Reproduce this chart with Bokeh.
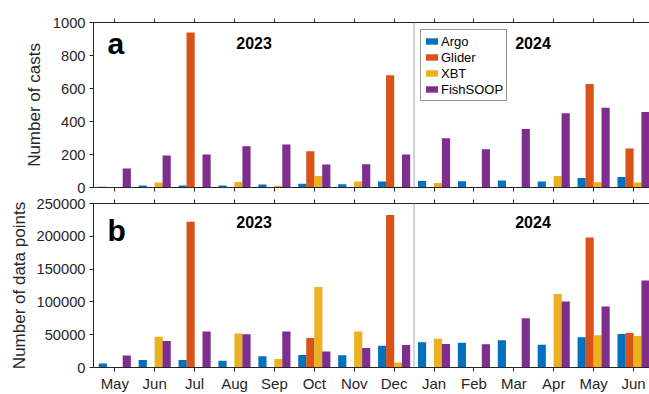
from bokeh.plotting import figure
from bokeh.models import (ColumnDataSource, FixedTicker, LinearAxis, Span, Label,
                          NumeralTickFormatter, Range1d)
from bokeh.layouts import column
from bokeh.transform import dodge
from bokeh.embed import file_html
from bokeh.resources import INLINE

# ---------------- data ----------------
months = ["May", "Jun", "Jul", "Aug", "Sep", "Oct", "Nov", "Dec",
          "Jan", "Feb", "Mar", "Apr", "May", "Jun"]
series = ["Argo", "Glider", "XBT", "FishSOOP"]

argo_casts = [5, 12, 12, 12, 18, 22, 20, 36, 40, 38, 42, 36, 57, 63]
glider_casts = [0, 0, 939, 0, 0, 220, 0, 680, 0, 0, 0, 0, 628, 236]
xbt_casts = [0, 30, 0, 34, 10, 70, 36, 5, 28, 0, 0, 70, 32, 30]
fish_casts = [115, 194, 200, 250, 260, 139, 141, 200, 299, 232, 354, 450, 483, 457]

argo_pts = [6000, 11600, 11600, 10100, 17200, 19200, 18700, 33300,
            38400, 37900, 41400, 34800, 46000, 51000]
glider_pts = [0, 0, 222000, 0, 0, 45000, 0, 232300, 0, 0, 0, 0, 198000, 52500]
xbt_pts = [0, 47000, 0, 52000, 13100, 122700, 55000, 7600,
           43900, 0, 0, 112100, 49000, 48000]
fish_pts = [18200, 40400, 55000, 50500, 55000, 24200, 29800, 34300,
            35900, 35400, 75200, 100500, 92900, 132800]

casts_ticks = [0, 200, 400, 600, 800, 1000]
pts_ticks = [0, 50000, 100000, 150000, 200000, 250000]

# ---------------- style ----------------
FONT = "Liberation Sans"
AX = "#262626"
COLORS = ["#0072BD", "#D95319", "#EDB120", "#7E2F8E"]
OFFSETS = [-0.3, -0.1, 0.1, 0.3]
BAR_W = 0.205
W = 649
idx = list(range(len(months)))


def style_xaxis(ax, show_labels):
    ax.ticker = FixedTicker(ticks=idx)
    ax.axis_line_color = AX
    ax.major_tick_line_color = AX
    ax.major_tick_out = 4
    ax.major_tick_in = 0
    ax.minor_tick_line_color = None
    ax.major_label_text_font = FONT
    if show_labels:
        ax.major_label_overrides = {i: m for i, m in enumerate(months)}
        ax.major_label_text_font_size = "15px"
        ax.major_label_text_color = AX
        ax.major_label_standoff = 3
    else:
        ax.major_label_text_color = None
        ax.major_label_standoff = 0


def make_panel(vals, yticks, ymax, ylabel, letter, height, mb_top, mb_bottom,
               bottom_labels, legend, label_standoff, letter_off, year_off, fmt=None):
    p = figure(width=W, height=height, output_backend="svg", toolbar_location=None,
               x_range=Range1d(-0.534, 13.40), y_range=Range1d(0, ymax),
               min_border_left=93, min_border_right=0,
               min_border_top=mb_top, min_border_bottom=mb_bottom,
               background_fill_color="white", border_fill_color="white")
    p.outline_line_color = None
    p.xgrid.visible = False
    p.ygrid.visible = False

    src = ColumnDataSource(dict(x=idx, a=vals[0], g=vals[1], t=vals[2], f=vals[3]))
    for key, name, col, off in zip(["a", "g", "t", "f"], series, COLORS, OFFSETS):
        kw = dict(legend_label=name) if legend else {}
        p.vbar(x=dodge("x", off), top=key, width=BAR_W, source=src,
               fill_color=col, line_color=None, **kw)

    # separator between years
    p.add_layout(Span(location=7.5, dimension="height", line_color="#a8a8a8",
                      line_width=1))

    # axes
    style_xaxis(p.xaxis[0], bottom_labels)
    top_ax = LinearAxis()
    style_xaxis(top_ax, False)
    p.add_layout(top_ax, "above")

    ya = p.yaxis[0]
    ya.ticker = FixedTicker(ticks=yticks)
    if fmt is not None:
        ya.formatter = fmt
    ya.axis_line_color = AX
    ya.major_tick_line_color = AX
    ya.major_tick_out = 4
    ya.major_tick_in = 0
    ya.minor_tick_line_color = None
    ya.major_label_text_font = FONT
    ya.major_label_text_font_size = "14.7px"
    ya.major_label_text_color = AX
    ya.major_label_standoff = 4
    ya.axis_label = ylabel
    ya.axis_label_text_font = FONT
    ya.axis_label_text_font_size = "17px"
    ya.axis_label_text_font_style = "normal"
    ya.axis_label_text_color = AX
    ya.axis_label_standoff = label_standoff

    # panel letter (top-left, inside the frame)
    p.add_layout(Label(x=-0.183, y=ymax, y_offset=-letter_off, text=letter,
                       text_font=FONT, text_font_size="30px",
                       text_font_style="bold", text_color="black",
                       text_baseline="alphabetic"))
    # year labels
    for xc, yr in [(3.49, "2023"), (10.48, "2024")]:
        p.add_layout(Label(x=xc, y=ymax, y_offset=-year_off, text=yr,
                           text_font=FONT, text_font_size="16px",
                           text_font_style="bold", text_color="black",
                           text_align="center", text_baseline="alphabetic"))

    if legend:
        lg = p.legend[0]
        lg.location = (327, 86)
        lg.border_line_color = AX
        lg.border_line_width = 1
        lg.background_fill_color = "white"
        lg.background_fill_alpha = 1.0
        lg.label_text_font = FONT
        lg.label_text_font_size = "13px"
        lg.label_text_color = "black"
        lg.glyph_width = 15
        lg.glyph_height = 8
        lg.label_height = 16
        lg.label_standoff = 2
        lg.padding = 3
        lg.spacing = 0
        lg.margin = 0
    return p


pa = make_panel([argo_casts, glider_casts, xbt_casts, fish_casts], casts_ticks, 1000,
                "Number of casts", "a", height=195, mb_top=22, mb_bottom=8,
                bottom_labels=False, legend=True, label_standoff=6,
                letter_off=21, year_off=20.5)
pb = make_panel([argo_pts, glider_pts, xbt_pts, fish_pts], pts_ticks, 250000,
                "Number of data points", "b", height=199, mb_top=8, mb_bottom=26,
                bottom_labels=True, legend=False, label_standoff=4,
                letter_off=27, year_off=18.5,
                fmt=NumeralTickFormatter(format="0"))

layout = column(pa, pb, spacing=0)
open("out.html", "w").write(file_html(layout, INLINE))
